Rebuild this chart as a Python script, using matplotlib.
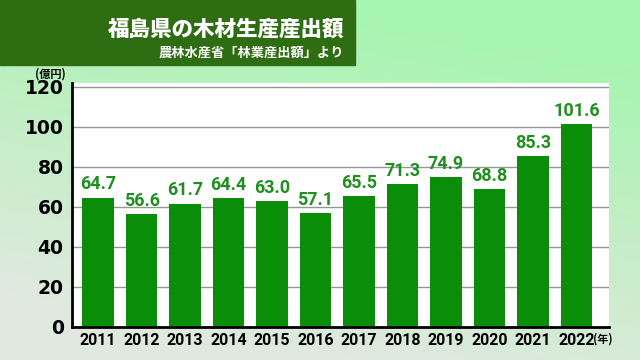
import numpy as np
import matplotlib
matplotlib.use("Agg")
import matplotlib.pyplot as plt
from matplotlib.colors import LinearSegmentedColormap

years = ["2011", "2012", "2013", "2014", "2015", "2016", "2017", "2018", "2019", "2020", "2021", "2022"]
values = [64.7, 56.6, 61.7, 64.4, 63.0, 57.1, 65.5, 71.3, 74.9, 68.8, 85.3, 101.6]
yticks = [0, 20, 40, 60, 80, 100, 120]
title = "福島県の木材生産産出額"
subtitle = "農林水産省「林業産出額」より"
yunit = "(億円)"
xunit = "(年)"

W, H = 640, 360
fig = plt.figure(figsize=(W / 100, H / 100), dpi=100)

# background gradient (mint at top/right, pale grey-green at bottom-left)
bg = fig.add_axes([0, 0, 1, 1])
bg.set_axis_off()
yy, xx = np.mgrid[0:1:200j, 0:1:360j]   # yy=0 bottom, yy=1 top
t = np.clip(1.05 * yy + 0.35 * xx - 0.2, 0, 1)
cmap = LinearSegmentedColormap.from_list("g", ["#dfe9de", "#c4eec6", "#a6f5b0"])
bg.imshow(t, cmap=cmap, origin="lower", extent=[0, 1, 0, 1], aspect="auto", vmin=0, vmax=1)
bg.set_xlim(0, 1)
bg.set_ylim(0, 1)

# title box
bg.add_patch(plt.Rectangle((0, 1 - 65 / H), 355 / W, 65 / H, color="#2f6d13", zorder=2))
jp = ["Noto Sans CJK JP", "DejaVu Sans"]
fig.text(344 / W, 1 - 29 / H, title, ha="right", va="center", color="white",
         fontsize=15.5, fontweight="black", family=jp)
fig.text(344 / W, 1 - 53 / H, subtitle, ha="right", va="center", color="white",
         fontsize=9.5, fontweight="bold", family=jp)

# main axes
x0, x1 = 72, 609
y0, y1 = 83, 327
ax = fig.add_axes([x0 / W, 1 - y1 / H, (x1 - x0) / W, (y1 - y0) / H])
ax.set_facecolor("white")
x = np.arange(len(years))
ax.bar(x, values, width=0.73, color="#0a8e0a", zorder=3)
ax.set_xlim(-0.6, 11.75)
ax.set_ylim(0, 122)
ax.set_yticks(yticks)
ax.set_yticklabels([str(v) for v in yticks], fontsize=13.5, fontweight="bold", family="DejaVu Sans")
ax.set_xticks(x)
ax.set_xticklabels(years, fontsize=11.5, fontweight="bold",
                   family=["Liberation Sans Narrow", "Roboto", "DejaVu Sans"])
ax.tick_params(axis="both", length=0, pad=4)
ax.tick_params(axis="y", pad=6)
for v in yticks[1:]:
    ax.axhline(v, color="#959595", lw=1.0, zorder=1)
for s in ["top", "right"]:
    ax.spines[s].set_visible(False)
ax.spines["left"].set_linewidth(2)
ax.spines["bottom"].set_linewidth(2)
ax.spines["left"].set_zorder(4)
ax.spines["bottom"].set_zorder(4)

for xi, v in zip(x, values):
    ax.annotate(f"{v:.1f}", (xi, v), xytext=(0, 3), textcoords="offset points",
                ha="center", va="bottom", color="#1f8f1f", fontsize=13, fontweight="bold",
                family=["Liberation Sans Narrow", "Roboto", "DejaVu Sans"], zorder=5)

fig.text(50 / W, 1 - 74 / H, yunit, ha="center", va="center", fontsize=8,
         fontweight="bold", family=jp)
fig.text(603 / W, 1 - 339 / H, xunit, ha="center", va="center", fontsize=8,
         fontweight="bold", family=jp)

fig.savefig("out.png", dpi=100)
